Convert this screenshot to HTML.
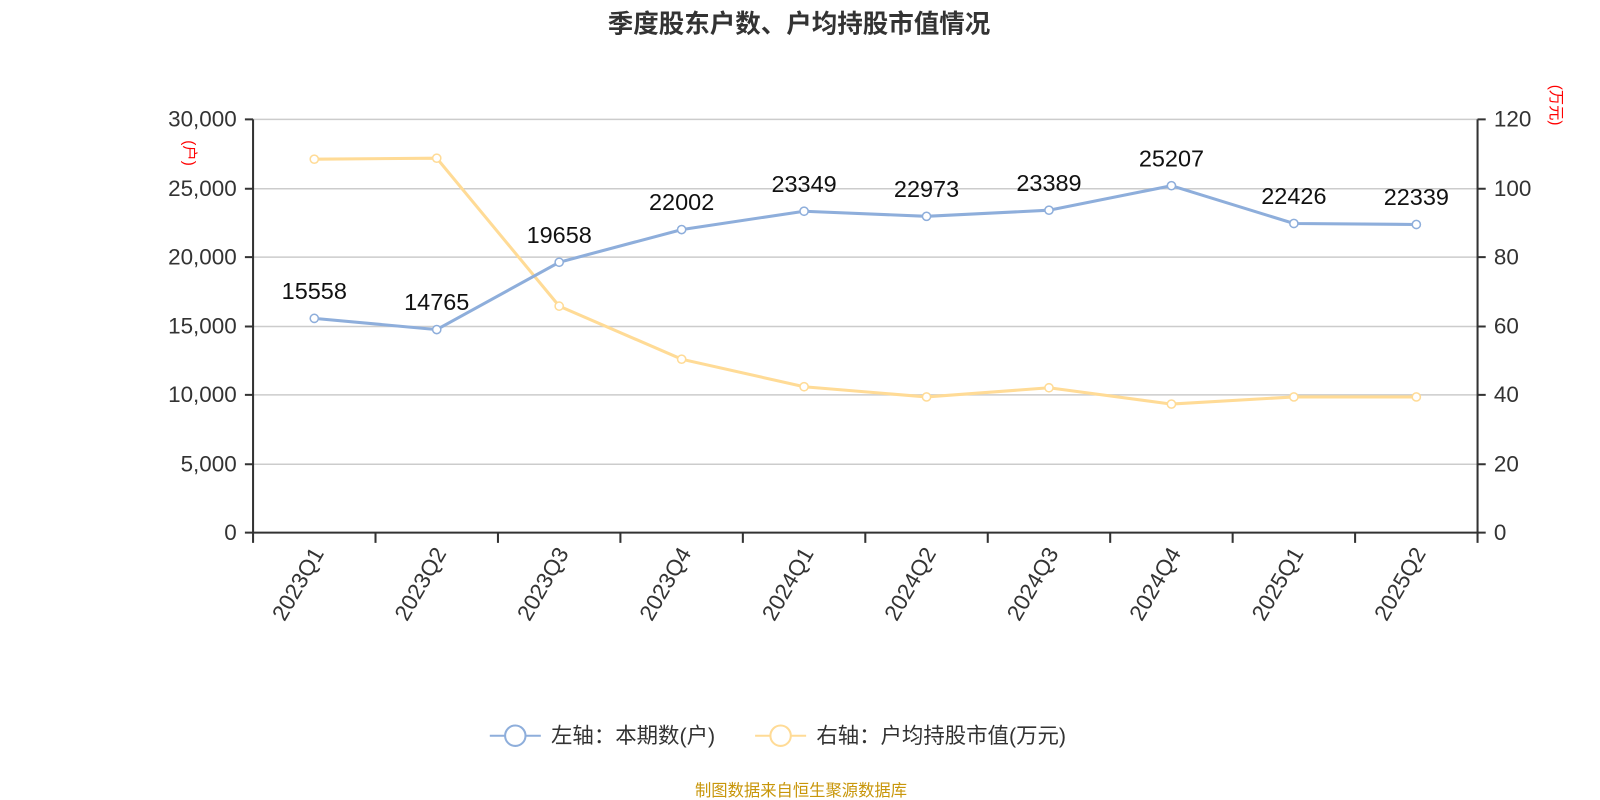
<!DOCTYPE html>
<html><head><meta charset="utf-8"><style>body{margin:0;background:#fff}svg{display:block}text{font-family:"Liberation Sans","Noto Sans CJK SC",sans-serif}</style></head><body>
<svg width="1600" height="800" viewBox="0 0 1568 784" xmlns="http://www.w3.org/2000/svg">
<text x="783" y="32" text-anchor="middle" font-size="25" font-weight="bold" fill="#333">季度股东户数、户均持股市值情况</text>
<g stroke="#ccc" stroke-width="1.5">
<line x1="248" y1="117" x2="1448" y2="117"/><line x1="248" y1="185" x2="1448" y2="185"/><line x1="248" y1="252" x2="1448" y2="252"/><line x1="248" y1="320" x2="1448" y2="320"/><line x1="248" y1="387" x2="1448" y2="387"/><line x1="248" y1="455" x2="1448" y2="455"/>
</g>
<g stroke="#333" stroke-width="2" fill="none">
<line x1="248" y1="117" x2="248" y2="523"/><line x1="1448" y1="117" x2="1448" y2="523"/><line x1="247" y1="522" x2="1449" y2="522"/>
<path d="M240 117H248M240 185H248M240 252H248M240 320H248M240 387H248M240 455H248M240 522H248"/>
<path d="M1448 117H1456M1448 185H1456M1448 252H1456M1448 320H1456M1448 387H1456M1448 455H1456M1448 522H1456"/>
<path d="M248 522V532M368 522V532M488 522V532M608 522V532M728 522V532M848 522V532M968 522V532M1088 522V532M1208 522V532M1328 522V532M1448 522V532"/>
</g>
<g font-size="22" fill="#333" text-anchor="end">
<text x="232" y="124">30,000</text><text x="232" y="192">25,000</text><text x="232" y="259">20,000</text><text x="232" y="327">15,000</text><text x="232" y="394">10,000</text><text x="232" y="462">5,000</text><text x="232" y="529">0</text>
</g>
<g font-size="22" fill="#333">
<text x="1464" y="124">120</text><text x="1464" y="192">100</text><text x="1464" y="259">80</text><text x="1464" y="327">60</text><text x="1464" y="394">40</text><text x="1464" y="462">20</text><text x="1464" y="529">0</text>
</g>
<text transform="translate(181,150) rotate(90)" font-size="15" fill="red" text-anchor="middle">(户)</text>
<text transform="translate(1520,103) rotate(90)" font-size="15" fill="red" text-anchor="middle">(万元)</text>
<g font-size="22" fill="#333" text-anchor="end">
<text transform="translate(318,542) rotate(-60)">2023Q1</text>
<text transform="translate(438,542) rotate(-60)">2023Q2</text>
<text transform="translate(558,542) rotate(-60)">2023Q3</text>
<text transform="translate(678,542) rotate(-60)">2023Q4</text>
<text transform="translate(798,542) rotate(-60)">2024Q1</text>
<text transform="translate(918,542) rotate(-60)">2024Q2</text>
<text transform="translate(1038,542) rotate(-60)">2024Q3</text>
<text transform="translate(1158,542) rotate(-60)">2024Q4</text>
<text transform="translate(1278,542) rotate(-60)">2025Q1</text>
<text transform="translate(1398,542) rotate(-60)">2025Q2</text>
</g>
<polyline fill="none" stroke="#ffdb96" stroke-width="3" points="308,156 428,155 548,300 668,352 788,379 908,389 1028,380 1148,396 1268,389 1388,389"/>
<g fill="#fff" stroke="#ffdb96" stroke-width="1.5">
<circle cx="308" cy="156" r="4"/><circle cx="428" cy="155" r="4"/><circle cx="548" cy="300" r="4"/><circle cx="668" cy="352" r="4"/><circle cx="788" cy="379" r="4"/><circle cx="908" cy="389" r="4"/><circle cx="1028" cy="380" r="4"/><circle cx="1148" cy="396" r="4"/><circle cx="1268" cy="389" r="4"/><circle cx="1388" cy="389" r="4"/>
</g>
<polyline fill="none" stroke="#8eaedb" stroke-width="3" points="308,312 428,323 548,257 668,225 788,207 908,212 1028,206 1148,182 1268,219 1388,220"/>
<g fill="#fff" stroke="#8eaedb" stroke-width="1.5">
<circle cx="308" cy="312" r="4"/><circle cx="428" cy="323" r="4"/><circle cx="548" cy="257" r="4"/><circle cx="668" cy="225" r="4"/><circle cx="788" cy="207" r="4"/><circle cx="908" cy="212" r="4"/><circle cx="1028" cy="206" r="4"/><circle cx="1148" cy="182" r="4"/><circle cx="1268" cy="219" r="4"/><circle cx="1388" cy="220" r="4"/>
</g>
<g font-size="23" fill="#111" text-anchor="middle">
<text x="308" y="293">15558</text><text x="428" y="304">14765</text><text x="548" y="238">19658</text><text x="668" y="206">22002</text><text x="788" y="188">23349</text><text x="908" y="193">22973</text><text x="1028" y="187">23389</text><text x="1148" y="163">25207</text><text x="1268" y="200">22426</text><text x="1388" y="201">22339</text>
</g>
<line x1="480" y1="721" x2="530" y2="721" stroke="#8eaedb" stroke-width="2"/><circle cx="505" cy="721" r="10" fill="#fff" stroke="#8eaedb" stroke-width="2"/>
<text x="540" y="728" font-size="21" fill="#333">左轴：本期数(户)</text>
<line x1="740" y1="721" x2="790" y2="721" stroke="#ffdb96" stroke-width="2"/><circle cx="765" cy="721" r="10" fill="#fff" stroke="#ffdb96" stroke-width="2"/>
<text x="800" y="728" font-size="21" fill="#333">右轴：户均持股市值(万元)</text>
<text x="785" y="780" font-size="16" fill="#c8960a" text-anchor="middle">制图数据来自恒生聚源数据库</text>
</svg>
</body></html>
